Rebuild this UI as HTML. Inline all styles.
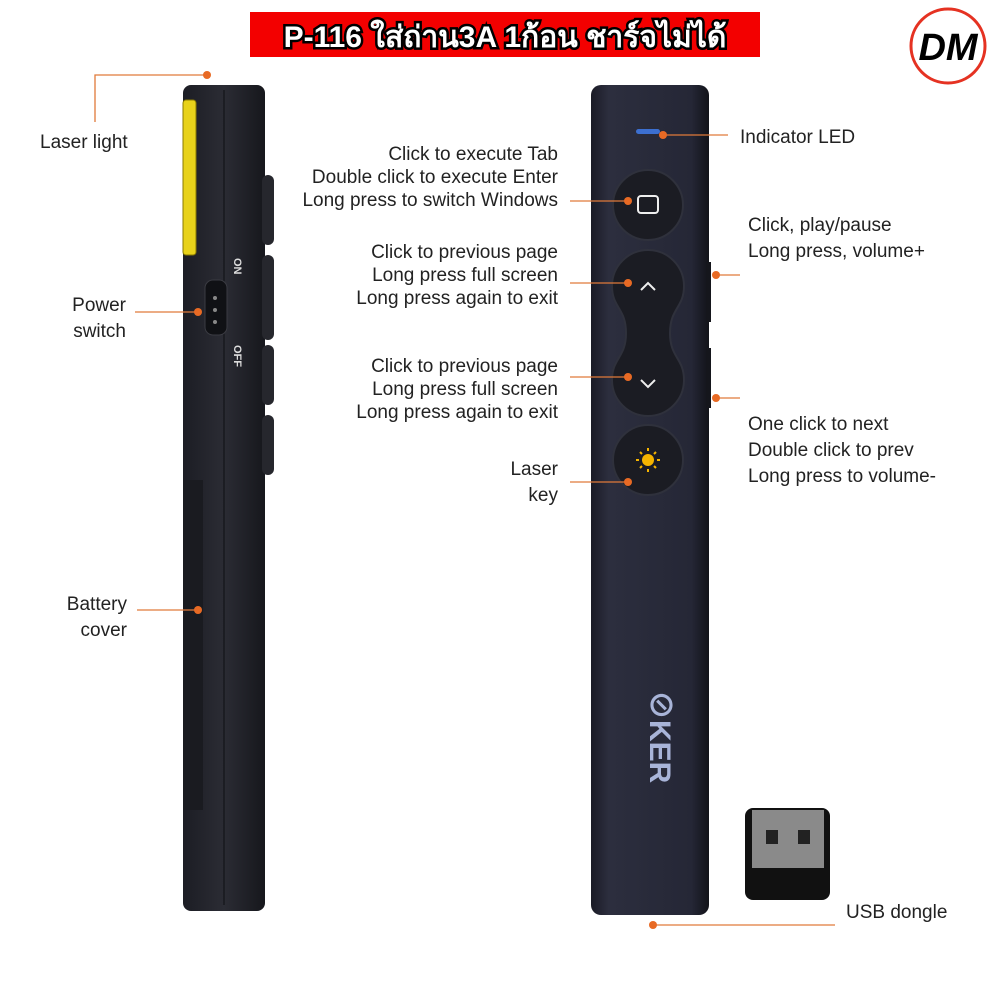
<!DOCTYPE html>
<html><head><meta charset="utf-8"><style>
body{margin:0;background:#fff;width:1000px;height:1000px;overflow:hidden}
svg{display:block}
text{font-family:"Liberation Sans","Noto Sans CJK SC",sans-serif;font-size:19px;fill:#222}
</style></head><body>
<svg width="1000" height="1000" viewBox="0 0 1000 1000">
<defs>
<linearGradient id="lp" x1="0" x2="1"><stop offset="0" stop-color="#1c1d24"/><stop offset=".5" stop-color="#2b2c34"/><stop offset="1" stop-color="#16171c"/></linearGradient>
<linearGradient id="rp" x1="0" x2="1"><stop offset="0" stop-color="#1a1b26"/><stop offset=".15" stop-color="#2c2e3e"/><stop offset=".85" stop-color="#252736"/><stop offset="1" stop-color="#121319"/></linearGradient>
</defs>
<!-- banner -->
<rect x="250" y="12" width="510" height="45" fill="#f30000"/>
<text x="505" y="47" text-anchor="middle" style="font-size:30px;font-weight:bold;fill:#fff;stroke:#000;stroke-width:5;paint-order:stroke;font-family:'Liberation Sans','Noto Sans CJK SC',sans-serif">P-116 ใส่ถ่าน3A 1ก้อน ชาร์จไม่ได้</text>
<!-- DM logo -->
<circle cx="948" cy="46" r="37" fill="#fff" stroke="#e53222" stroke-width="3"/>
<text x="948" y="60" text-anchor="middle" style="font-size:38px;font-weight:bold;font-style:italic;fill:#000">DM</text>

<!-- left pen -->
<rect x="183" y="85" width="82" height="826" rx="8" fill="url(#lp)"/>
<line x1="224" y1="90" x2="224" y2="905" stroke="#0e0f12" stroke-width="1"/>
<rect x="183" y="100" width="13" height="155" rx="3" fill="#e8d21a" stroke="#8a7a00"/>
<rect x="183" y="480" width="20" height="330" fill="#1a1b20"/>
<rect x="262" y="175" width="12" height="70" rx="6" fill="#26272d"/>
<rect x="262" y="255" width="12" height="85" rx="6" fill="#26272d"/>
<rect x="262" y="345" width="12" height="60" rx="6" fill="#26272d"/>
<rect x="262" y="415" width="12" height="60" rx="6" fill="#26272d"/>
<rect x="205" y="280" width="22" height="55" rx="8" fill="#101115" stroke="#3a3b42"/>
<circle cx="215" cy="298" r="2" fill="#888"/><circle cx="215" cy="310" r="2" fill="#888"/><circle cx="215" cy="322" r="2" fill="#888"/>
<text x="234" y="258" transform="rotate(90 234 258)" style="font-size:11px;font-weight:bold;fill:#ddd">ON</text>
<text x="234" y="345" transform="rotate(90 234 345)" style="font-size:11px;font-weight:bold;fill:#ddd">OFF</text>

<!-- right pen -->
<rect x="591" y="85" width="118" height="830" rx="10" fill="url(#rp)"/>
<rect x="636" y="129" width="24" height="5" rx="2.5" fill="#3c6fd0"/>
<circle cx="648" cy="205" r="35" fill="#1b1c23" stroke="#2f313c" stroke-width="2"/>
<rect x="638" y="196" width="20" height="17" rx="3" fill="none" stroke="#eee" stroke-width="2"/>
<path d="M648 250 a36 36 0 0 1 36 36 c0 22 -14 22 -14 47 c0 25 14 25 14 47 a36 36 0 0 1 -72 0 c0 -22 14 -22 14 -47 c0 -25 -14 -25 -14 -47 a36 36 0 0 1 36 -36z" fill="#1b1c23" stroke="#2f313c" stroke-width="2"/>
<path d="M641 290 l7 -7 l7 7" fill="none" stroke="#eee" stroke-width="2"/>
<path d="M641 380 l7 7 l7 -7" fill="none" stroke="#eee" stroke-width="2"/>
<circle cx="648" cy="460" r="35" fill="#1b1c23" stroke="#2f313c" stroke-width="2"/>
<circle cx="648" cy="460" r="6" fill="#f5b400"/>
<g stroke="#f5b400" stroke-width="2"><line x1="648" y1="448" x2="648" y2="451"/><line x1="648" y1="469" x2="648" y2="472"/><line x1="636" y1="460" x2="639" y2="460"/><line x1="657" y1="460" x2="660" y2="460"/><line x1="640" y1="452" x2="642" y2="454"/><line x1="654" y1="466" x2="656" y2="468"/><line x1="656" y1="452" x2="654" y2="454"/><line x1="640" y1="468" x2="642" y2="466"/></g>
<rect x="706" y="262" width="5" height="60" fill="#15161c"/>
<rect x="706" y="348" width="5" height="60" fill="#15161c"/>
<text x="650" y="690" transform="rotate(90 650 690)" style="font-size:30px;font-weight:bold;fill:#a8b4d8">⊘KER</text>

<!-- USB dongle -->
<rect x="745" y="808" width="85" height="92" rx="8" fill="#111"/>
<rect x="752" y="810" width="72" height="58" fill="#8a8a8a"/>
<rect x="766" y="830" width="12" height="14" fill="#222"/><rect x="798" y="830" width="12" height="14" fill="#222"/>

<!-- connectors -->
<g stroke="#e07a3a" stroke-width="1.3" fill="none">
<polyline points="95,122 95,75 207,75"/>
<line x1="135" y1="312" x2="198" y2="312"/>
<line x1="137" y1="610" x2="198" y2="610"/>
<line x1="663" y1="135" x2="728" y2="135"/>
<line x1="570" y1="201" x2="628" y2="201"/>
<line x1="570" y1="283" x2="628" y2="283"/>
<line x1="570" y1="377" x2="628" y2="377"/>
<line x1="570" y1="482" x2="628" y2="482"/>
<line x1="716" y1="275" x2="740" y2="275"/>
<line x1="716" y1="398" x2="740" y2="398"/>
<line x1="653" y1="925" x2="835" y2="925"/>
</g>
<g fill="#e86a24">
<circle cx="207" cy="75" r="4"/><circle cx="198" cy="312" r="4"/><circle cx="198" cy="610" r="4"/>
<circle cx="663" cy="135" r="4"/><circle cx="628" cy="201" r="4"/><circle cx="628" cy="283" r="4"/>
<circle cx="628" cy="377" r="4"/><circle cx="628" cy="482" r="4"/><circle cx="716" cy="275" r="4"/>
<circle cx="716" cy="398" r="4"/><circle cx="653" cy="925" r="4"/>
</g>

<!-- labels -->
<text x="40" y="148">Laser light</text>
<text x="126" y="311" text-anchor="end">Power</text>
<text x="126" y="337" text-anchor="end">switch</text>
<text x="127" y="610" text-anchor="end">Battery</text>
<text x="127" y="636" text-anchor="end">cover</text>
<g text-anchor="end" style="font-size:18px">
<text x="558" y="160">Click to execute Tab</text>
<text x="558" y="183">Double click to execute Enter</text>
<text x="558" y="206">Long press to switch Windows</text>
<text x="558" y="258">Click to previous page</text>
<text x="558" y="281">Long press full screen</text>
<text x="558" y="304">Long press again to exit</text>
<text x="558" y="372">Click to previous page</text>
<text x="558" y="395">Long press full screen</text>
<text x="558" y="418">Long press again to exit</text>
<text x="558" y="475">Laser</text>
<text x="558" y="501">key</text>
</g>
<text x="740" y="143">Indicator LED</text>
<text x="748" y="231">Click, play/pause</text>
<text x="748" y="257">Long press, volume+</text>
<text x="748" y="430">One click to next</text>
<text x="748" y="456">Double click to prev</text>
<text x="748" y="482">Long press to volume-</text>
<text x="846" y="918">USB dongle</text>
</svg>
</body></html>
